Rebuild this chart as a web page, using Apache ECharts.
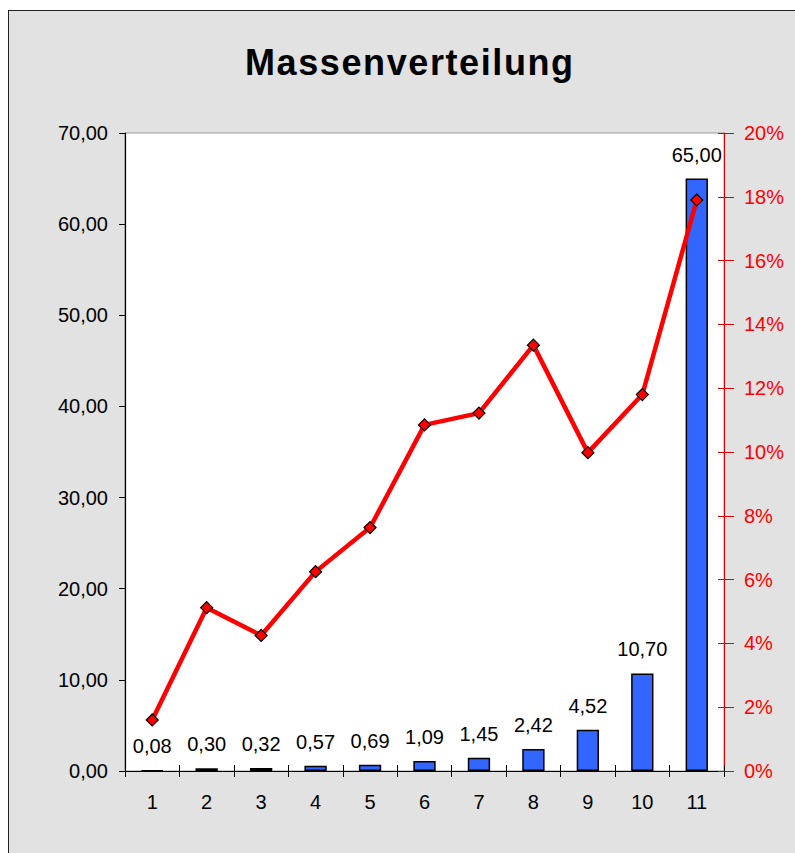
<!DOCTYPE html>
<html>
<head>
<meta charset="utf-8">
<script src="https://cdn.jsdelivr.net/npm/echarts@6/dist/echarts.min.js"></script>
<style>
html,body{margin:0;padding:0;background:#fff;}
#frame{position:absolute;left:8px;top:10px;width:787px;height:843px;background:#e2e2e2;border-left:1.5px solid #222;border-top:1.5px solid #222;box-sizing:border-box;}
#chart{width:100%;height:100%;}
#chart text[style*="36px"]{letter-spacing:1.6px;}
</style>
</head>
<body>
<div id="frame"><div id="chart"></div></div>
<script>
const titleText = "Massenverteilung";
const categories = ["1","2","3","4","5","6","7","8","9","10","11"];
const massValues = [0.08, 0.30, 0.32, 0.57, 0.69, 1.09, 1.45, 2.42, 4.52, 10.70, 65.00];
const percentValues = [1.6, 5.12, 4.25, 6.25, 7.63, 10.85, 11.22, 13.35, 9.98, 11.8, 17.9];

const FONT = 'Liberation Sans, Arial';
const fmt2 = v => v.toFixed(2).replace('.', ',');
const chart = echarts.init(document.getElementById('chart'), null, {renderer: 'svg'});
chart.setOption({
  animation: false,
  title: {
    text: titleText, left: 231, top: 28,
    textStyle: {fontFamily: FONT, fontWeight: 'bold', fontSize: 36, color: '#000'}
  },
  grid: {left: 116, right: 71, top: 122, bottom: 82, show: true, backgroundColor: '#fff', borderColor: '#999', borderWidth: 1},
  xAxis: [{
    type: 'category', data: categories,
    axisLine: {lineStyle: {color: '#000', width: 1.2}},
    axisTick: {show: true, length: 6, lineStyle: {color: '#000'}},
    axisLabel: {margin: 21, fontSize: 20, color: '#000', fontFamily: FONT}
  }, {
    type: 'category', data: categories, position: 'bottom',
    axisLine: {show: false},
    axisTick: {show: true, inside: true, length: 6, lineStyle: {color: '#000'}},
    axisLabel: {show: false}
  }],
  yAxis: [{
    type: 'value', min: 0, max: 70, interval: 10,
    axisLine: {show: true, lineStyle: {color: '#000', width: 1.2}},
    axisTick: {show: true, length: 6, lineStyle: {color: '#000'}},
    splitLine: {show: false},
    axisLabel: {margin: 17, fontSize: 20, color: '#000', fontFamily: FONT, formatter: v => fmt2(v)}
  }, {
    type: 'value', min: 0, max: 20, interval: 2, position: 'right',
    axisLine: {show: true, lineStyle: {color: '#e00000', width: 1}},
    axisTick: {show: true, length: 10, lineStyle: {color: '#e00000'}},
    splitLine: {show: false},
    axisLabel: {margin: 20, fontSize: 20, color: '#ff0000', fontFamily: FONT, formatter: v => v + '%'}
  }, {
    type: 'value', min: 0, max: 20, interval: 2, position: 'right',
    axisLine: {show: false},
    axisTick: {show: true, inside: true, length: 6, lineStyle: {color: '#e00000'}},
    splitLine: {show: false},
    axisLabel: {show: false}
  }],
  series: [{
    type: 'bar', data: massValues, yAxisIndex: 0, barWidth: '41%',
    itemStyle: {color: '#3366ff', borderColor: '#000', borderWidth: 1.5},
    label: {show: true, position: 'top', distance: 14, fontSize: 20, color: '#000', fontFamily: FONT, formatter: p => fmt2(p.value)},
    z: 2
  }, {
    type: 'line', data: percentValues, yAxisIndex: 1,
    lineStyle: {color: '#ff0000', width: 4.5},
    symbol: 'diamond', symbolSize: 12, showAllSymbol: true,
    itemStyle: {color: '#ff0000', borderColor: '#000', borderWidth: 1.2},
    z: 3
  }]
});
</script>
</body>
</html>
